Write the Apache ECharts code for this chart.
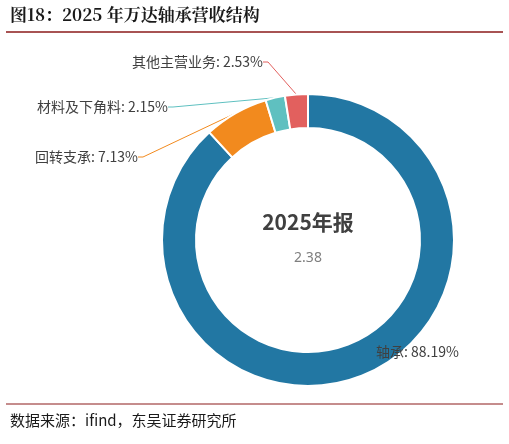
<!DOCTYPE html>
<html><head><meta charset="utf-8">
<script src="https://cdn.jsdelivr.net/npm/echarts@6/dist/echarts.min.js"></script>
<style>html,body{margin:0;padding:0;background:#fff}#c{width:509px;height:444px}</style>
</head><body><div id="c"></div>
<script>
const categories = ['轴承', '回转支承', '材料及下角料', '其他主营业务'];
const values = [88.19, 7.13, 2.15, 2.53];
const colors = ['#2277a3', '#f28a1e', '#5fc0c0', '#e2605e'];
const centerTitle = '2025年报';
const centerValue = '2.38';
const labelSpots = [[376, 352, 'left'], [138, 157, 'right'], [168, 107, 'right'], [263, 62, 'right']];

const chart = echarts.init(document.getElementById('c'));
chart.setOption({
  animation: false,
  graphic: [
    {type:'text', left: 10, top: 6, style:{text:'图18：2025 年万达轴承营收结构', font:'bold 17px "Noto Serif CJK SC", "Noto Sans CJK SC", serif', fill:'#1a1a1a'}},
    {type:'line', shape:{x1:6,y1:32,x2:503,y2:32}, style:{stroke:'#8b1a1a', lineWidth:1.5}},
    {type:'line', shape:{x1:6,y1:404,x2:503,y2:404}, style:{stroke:'#8b1a1a', lineWidth:1}},
    {type:'text', left: 10, top: 413, style:{text:'数据来源：ifind，东吴证券研究所', font:'15px "Noto Sans CJK SC", serif', fill:'#1a1a1a'}},
    {type:'text', x: 308, y: 222, style:{text:centerTitle, font:'bold 21px "Noto Sans CJK SC", sans-serif', fill:'#404040', align:'center', verticalAlign:'middle'}},
    {type:'text', x: 308, y: 258, style:{text:centerValue, font:'14px "Noto Sans", sans-serif', fill:'#7f7f7f', align:'center', verticalAlign:'middle'}}
  ],
  series: [{
    type: 'pie',
    center: [308, 240],
    radius: [112, 146],
    startAngle: 90,
    clockwise: true,
    itemStyle: {borderColor:'#fff', borderWidth:2},
    label: {
      formatter: p => p.name + ': ' + p.value.toFixed(2) + '%',
      color: '#404040', fontSize: 14, fontFamily: '"Noto Sans CJK SC", sans-serif'
    },
    labelLine: {length: 20, length2: 5, lineStyle:{width:1}},
    labelLayout: p => {
      const s = labelSpots[p.dataIndex];
      return {x: s[0], y: s[1], align: s[2], verticalAlign: 'middle'};
    },
    data: categories.map((n, i) => ({name: n, value: values[i], itemStyle:{color: colors[i]}}))
  }]
});
</script></body></html>
